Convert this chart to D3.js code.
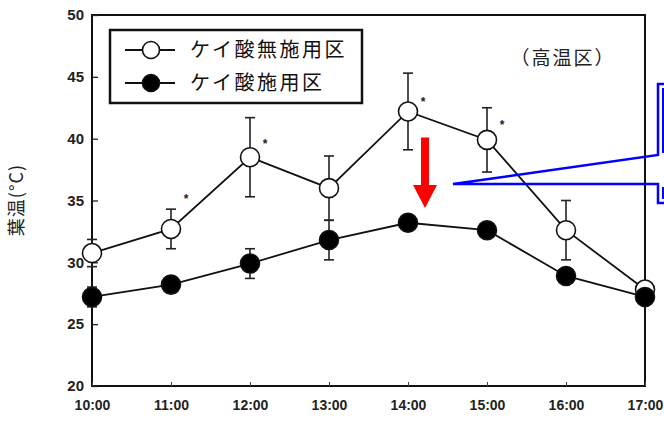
<!DOCTYPE html>
<html>
<head>
<meta charset="utf-8">
<script src="https://cdn.jsdelivr.net/npm/d3@7"></script>
<style>
  html, body { margin: 0; padding: 0; background: #fff; }
  svg { display: block; }
</style>
</head>
<body>
<svg id="chart" width="664" height="421"></svg>
<script>
// chart values
const times = [ '10:00', '11:00', '12:00', '13:00', '14:00', '15:00', '16:00', '17:00' ];
const noSilica = [ 30.75, 32.7, 38.5, 36.0, 42.2, 39.9, 32.6, 27.8 ];
const noSilicaErr = [ 1.1, 1.6, 3.2, 2.6, 3.1, 2.6, 2.4, 0.3 ];
const silica = [ 27.2, 28.2, 29.9, 31.8, 33.2, 32.6, 28.9, 27.2 ];
const silicaErr = [ 0.8, 0.3, 1.2, 1.6, 0.3, 0.3, 0.3, 0.3 ];
// asterisk (significance) marks, in degrees
const sigMarks = [ null, 35.3, 39.7, null, 43.1, 41.3, null, null ];
const yTicks = [ 20, 25, 30, 35, 40, 45, 50 ];
const seriesNames = [ 'ケイ酸無施用区', 'ケイ酸施用区' ];

const svg = d3.select( '#chart' );
const margin = { top: 15, right: 19, bottom: 35, left: 92 };
const width = 664 - margin.left - margin.right;
const height = 421 - margin.top - margin.bottom;

const x = d3.scalePoint().domain( times ).range( [ 0, width ] );
const y = d3.scaleLinear().domain( [ 20, 50 ] ).range( [ height, 0 ] );

const g = svg.append( 'g' )
	.attr( 'transform', `translate(${ margin.left },${ margin.top })` );

// frame
g.append( 'rect' )
	.attr( 'x', 0 ).attr( 'y', 0 )
	.attr( 'width', width ).attr( 'height', height )
	.attr( 'fill', 'none' )
	.attr( 'stroke', '#111' )
	.attr( 'stroke-width', 2 );

const yAxis = d3.axisLeft( y )
	.tickValues( yTicks )
	.tickSizeInner( -6 )
	.tickSizeOuter( 0 )
	.tickPadding( 8 );
const yg = g.append( 'g' ).call( yAxis );
yg.select( '.domain' ).remove();
yg.selectAll( 'line' ).attr( 'stroke', '#222' ).attr( 'stroke-width', 1.3 );
yg.selectAll( 'text' )
	.style( 'font-family', '"Liberation Sans", Arial, sans-serif' )
	.style( 'font-weight', 'bold' )
	.style( 'font-size', '15px' )
	.attr( 'fill', '#222' );

const xAxis = d3.axisBottom( x )
	.tickSizeInner( -4 )
	.tickSizeOuter( 0 )
	.tickPadding( 14 );
const xg = g.append( 'g' )
	.attr( 'transform', `translate(0,${ height })` )
	.call( xAxis );
xg.select( '.domain' ).remove();
xg.selectAll( 'line' ).attr( 'stroke', '#444' ).attr( 'stroke-width', 1 );
xg.selectAll( 'text' )
	.style( 'font-family', '"Liberation Sans", Arial, sans-serif' )
	.style( 'font-weight', 'bold' )
	.style( 'font-size', '14px' )
	.attr( 'fill', '#222' );

// y axis title
svg.append( 'text' )
	.attr( 'transform', 'translate(17,200) rotate(-90)' )
	.attr( 'text-anchor', 'middle' )
	.attr( 'dy', '0.35em' )
	.style( 'font-family', '"Noto Sans CJK JP", sans-serif' )
	.style( 'font-size', '18px' )
	.style( 'letter-spacing', '1px' )
	.attr( 'fill', '#222' )
	.text( '葉温(°C)' );

const line = d3.line()
	.x( ( d, i ) => x( times[ i ] ) )
	.y( d => y( d ) );

function drawSeries( values, errs, fill ) {
	g.append( 'path' )
		.datum( values )
		.attr( 'd', line )
		.attr( 'fill', 'none' )
		.attr( 'stroke', '#111' )
		.attr( 'stroke-width', 1.8 );

	const eb = g.append( 'g' )
		.selectAll( 'g' )
		.data( values )
		.join( 'g' )
		.attr( 'stroke', '#222' )
		.attr( 'stroke-width', 1.6 );
	eb.append( 'line' )
		.attr( 'x1', ( d, i ) => x( times[ i ] ) )
		.attr( 'x2', ( d, i ) => x( times[ i ] ) )
		.attr( 'y1', ( d, i ) => y( d + errs[ i ] ) )
		.attr( 'y2', ( d, i ) => y( d - errs[ i ] ) );
	[ 1, -1 ].forEach( s => {
		eb.append( 'line' )
			.attr( 'x1', ( d, i ) => x( times[ i ] ) - 5 )
			.attr( 'x2', ( d, i ) => x( times[ i ] ) + 5 )
			.attr( 'y1', ( d, i ) => y( d + s * errs[ i ] ) )
			.attr( 'y2', ( d, i ) => y( d + s * errs[ i ] ) );
	} );

	g.append( 'g' )
		.selectAll( 'circle' )
		.data( values )
		.join( 'circle' )
		.attr( 'cx', ( d, i ) => x( times[ i ] ) )
		.attr( 'cy', d => y( d ) )
		.attr( 'r', 9.5 )
		.attr( 'fill', fill )
		.attr( 'stroke', '#111' )
		.attr( 'stroke-width', 1.6 );
}

drawSeries( noSilica, noSilicaErr, '#fff' );
drawSeries( silica, silicaErr, '#000' );

// asterisks
g.append( 'g' )
	.selectAll( 'text' )
	.data( sigMarks.map( ( v, i ) => ( { v, t: times[ i ] } ) ).filter( d => d.v !== null ) )
	.join( 'text' )
	.attr( 'x', d => x( d.t ) + 15 )
	.attr( 'y', d => y( d.v ) + 6 )
	.attr( 'text-anchor', 'middle' )
	.style( 'font-family', '"Liberation Sans", Arial, sans-serif' )
	.style( 'font-weight', 'bold' )
	.style( 'font-size', '12px' )
	.attr( 'fill', '#222' )
	.text( '*' );

// legend
const legend = svg.append( 'g' );
legend.append( 'rect' )
	.attr( 'x', 110 ).attr( 'y', 30 )
	.attr( 'width', 252 ).attr( 'height', 73 )
	.attr( 'fill', '#fff' )
	.attr( 'stroke', '#111' )
	.attr( 'stroke-width', 2.5 );
const items = legend.selectAll( 'g.item' )
	.data( seriesNames )
	.join( 'g' )
	.attr( 'class', 'item' )
	.attr( 'transform', ( d, i ) => `translate(0,${ 50 + i * 33 })` );
items.append( 'line' )
	.attr( 'x1', 125 ).attr( 'x2', 175 )
	.attr( 'stroke', '#111' ).attr( 'stroke-width', 1.8 );
items.append( 'circle' )
	.attr( 'cx', 151 )
	.attr( 'r', 8.5 )
	.attr( 'fill', ( d, i ) => i === 0 ? '#fff' : '#000' )
	.attr( 'stroke', '#111' )
	.attr( 'stroke-width', 1.6 );
items.append( 'text' )
	.attr( 'x', 190 )
	.attr( 'dy', '0.35em' )
	.style( 'font-family', '"Noto Sans CJK JP", sans-serif' )
	.style( 'font-size', '20px' )
	.style( 'letter-spacing', '2.5px' )
	.attr( 'fill', '#111' )
	.text( d => d );

// condition label
svg.append( 'text' )
	.attr( 'x', 563 ).attr( 'y', 58 )
	.attr( 'dy', '0.35em' )
	.attr( 'text-anchor', 'middle' )
	.style( 'font-family', '"Noto Sans CJK JP", sans-serif' )
	.style( 'font-size', '19px' )
	.style( 'letter-spacing', '2px' )
	.attr( 'fill', '#222' )
	.text( '（高温区）' );

// red arrow (14:00 drop)
const ax = x( '14:00' ) + 17;
svg.append( 'path' )
	.attr( 'transform', `translate(${ margin.left },${ margin.top })` )
	.attr( 'd', `M${ ax - 4 },${ y( 40.1 ) } H${ ax + 4 } V${ y( 36.25 ) } H${ ax + 12 } L${ ax },${ y( 34.4 ) } L${ ax - 12 },${ y( 36.25 ) } H${ ax - 4 } Z` )
	.attr( 'fill', '#ff0000' );

// blue callout box (cut off at the right edge)
svg.append( 'path' )
	.attr( 'd', 'M680,84 H658 V155 L453,184 H658 V203 H680' )
	.attr( 'fill', 'none' )
	.attr( 'stroke', '#0000ff' )
	.attr( 'stroke-width', 2.5 );
svg.append( 'path' )
	.attr( 'd', 'M680,89 H663 V153 M663,187 V198 H680' )
	.attr( 'fill', 'none' )
	.attr( 'stroke', '#0000ff' )
	.attr( 'stroke-width', 2 );
</script>
</body>
</html>
